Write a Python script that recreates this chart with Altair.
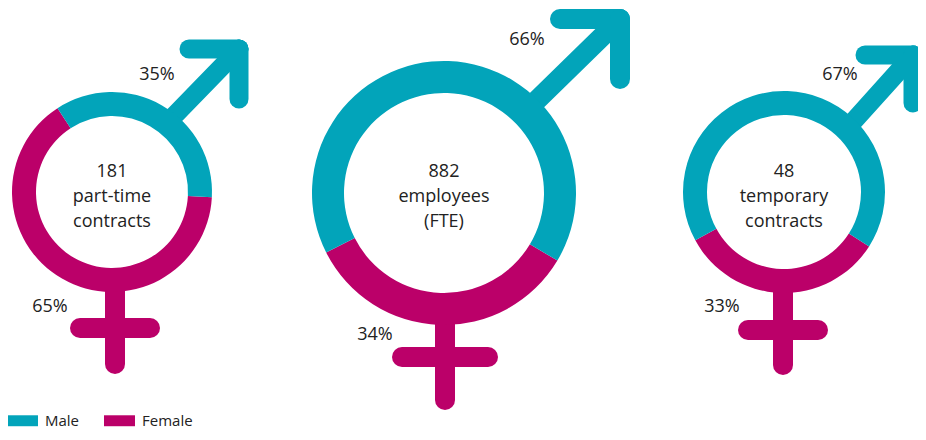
import altair as alt
import pandas as pd
import math

# ---------------- data ----------------
panels = ["part-time", "employees", "temporary"]
totals = [181, 882, 48]
captions = ["part-time\ncontracts", "employees\n(FTE)", "temporary\ncontracts"]
genders = ["Male", "Female"]
male_pct = [35, 66, 67]
female_pct = [65, 34, 33]

# ---------------- layout (page pixel coordinates) ----------------
cx = [112, 444, 784]
cy = [192, 193, 192]
r_out = [100, 132, 101]
r_in = [76, 100, 77]
female_mid_deg = [210, 182, 182]
text_top_y = [172, 172, 172]
male_label_xy = [(157, 75), (527, 40), (840, 75)]
female_label_xy = [(50, 307), (375, 335), (722, 307)]
# arrow: shaft start, corner, arm length, stroke
arrows = [((170, 120), (239, 49), 50, 19), ((533, 104), (620, 19), 60, 20), ((851, 124), (913, 55), 48, 19)]
# cross: stem x, stem y0, stem y1, bar y, bar half width, stroke
crosses = [(115, 285, 364, 328, 35, 20), (445, 318, 400, 357, 43, 20), (783, 285, 365, 330, 35, 20)]

TEAL = "#02A4BA"
MAGENTA = "#BB0069"
FONT = "Open Sans"
TXT = "#222222"

W, H = 910, 424
xs = alt.Scale(domain=[8, 8 + W], range=[0, W])
ys = alt.Scale(domain=[8, 8 + H], range=[0, H])
color_scale = alt.Scale(domain=genders, range=[TEAL, MAGENTA])
legend = alt.Legend(
    orient="none", legendX=-1, legendY=405, direction="horizontal", title=None,
    symbolType="M-1,-0.73H3.13V0.73H-1Z", symbolSize=225, symbolStrokeWidth=0,
    labelFont=FONT, labelFontSize=15, labelColor=TXT, labelOffset=23,
    columnPadding=24, padding=0,
)

# arcs
arc_rows = []
for i, p in enumerate(panels):
    f = female_pct[i] / 100 * 360
    m = male_pct[i] / 100 * 360
    fs = female_mid_deg[i] - f / 2
    fe = female_mid_deg[i] + f / 2
    arc_rows.append(dict(panel=p, gender="Female", t0=math.radians(fs), t1=math.radians(fe),
                         cx=cx[i], cy=cy[i], ro=r_out[i], ri=r_in[i]))
    arc_rows.append(dict(panel=p, gender="Male", t0=math.radians(fe), t1=math.radians(fe + m),
                         cx=cx[i], cy=cy[i], ro=r_out[i], ri=r_in[i]))
arc_df = pd.DataFrame(arc_rows)

# symbol segments
seg_rows = []
for i, p in enumerate(panels):
    (sx, sy), (kx, ky), L, sw = arrows[i]
    seg_rows.append(dict(panel=p, gender="Male", x=sx, y=sy, x2=kx, y2=ky, sw=sw))
    seg_rows.append(dict(panel=p, gender="Male", x=kx - L, y=ky, x2=kx, y2=ky, sw=sw))
    seg_rows.append(dict(panel=p, gender="Male", x=kx, y=ky, x2=kx, y2=ky + L, sw=sw))
    x0, y0, y1, by, hw, sw2 = crosses[i]
    seg_rows.append(dict(panel=p, gender="Female", x=x0, y=y0, x2=x0, y2=y1, sw=sw2))
    seg_rows.append(dict(panel=p, gender="Female", x=x0 - hw, y=by, x2=x0 + hw, y2=by, sw=sw2))
seg_df = pd.DataFrame(seg_rows)

center_df = pd.DataFrame({
    "x": cx, "y": text_top_y,
    "text": [f"{t}\n{c}" for t, c in zip(totals, captions)],
})

pct_df = pd.DataFrame(
    [dict(x=male_label_xy[i][0], y=male_label_xy[i][1], text=f"{male_pct[i]}%") for i in range(3)]
    + [dict(x=female_label_xy[i][0], y=female_label_xy[i][1], text=f"{female_pct[i]}%") for i in range(3)]
)

segs = alt.Chart(seg_df).mark_rule(strokeCap="round").encode(
    x=alt.X("x:Q", scale=xs, axis=None),
    y=alt.Y("y:Q", scale=ys, axis=None),
    x2="x2:Q",
    y2="y2:Q",
    strokeWidth=alt.StrokeWidth("sw:Q", scale=None),
    color=alt.Color("gender:N", scale=color_scale, legend=legend),
)

arcs = alt.Chart(arc_df).mark_arc(stroke=None).encode(
    x=alt.X("cx:Q", scale=xs, axis=None),
    y=alt.Y("cy:Q", scale=ys, axis=None),
    theta=alt.Theta("t0:Q", scale=None, stack=False),
    theta2="t1:Q",
    radius=alt.Radius("ro:Q", scale=None),
    radius2="ri:Q",
    color=alt.Color("gender:N", scale=color_scale, legend=legend),
)

center_text = alt.Chart(center_df).mark_text(
    font=FONT, fontSize=18, color=TXT, lineBreak="\n", lineHeight=25, baseline="middle", align="center"
).encode(
    x=alt.X("x:Q", scale=xs, axis=None),
    y=alt.Y("y:Q", scale=ys, axis=None),
    text="text:N",
)

pct_text = alt.Chart(pct_df).mark_text(
    font=FONT, fontSize=18, color=TXT, baseline="middle", align="center"
).encode(
    x=alt.X("x:Q", scale=xs, axis=None),
    y=alt.Y("y:Q", scale=ys, axis=None),
    text="text:N",
)

chart = alt.layer(segs, arcs, center_text, pct_text).properties(
    width=W, height=H, autosize=alt.AutoSizeParams(type="none"), padding=0,
).configure_view(stroke=None)

chart.save("out.html", embed_options={"renderer": "svg", "actions": False})
